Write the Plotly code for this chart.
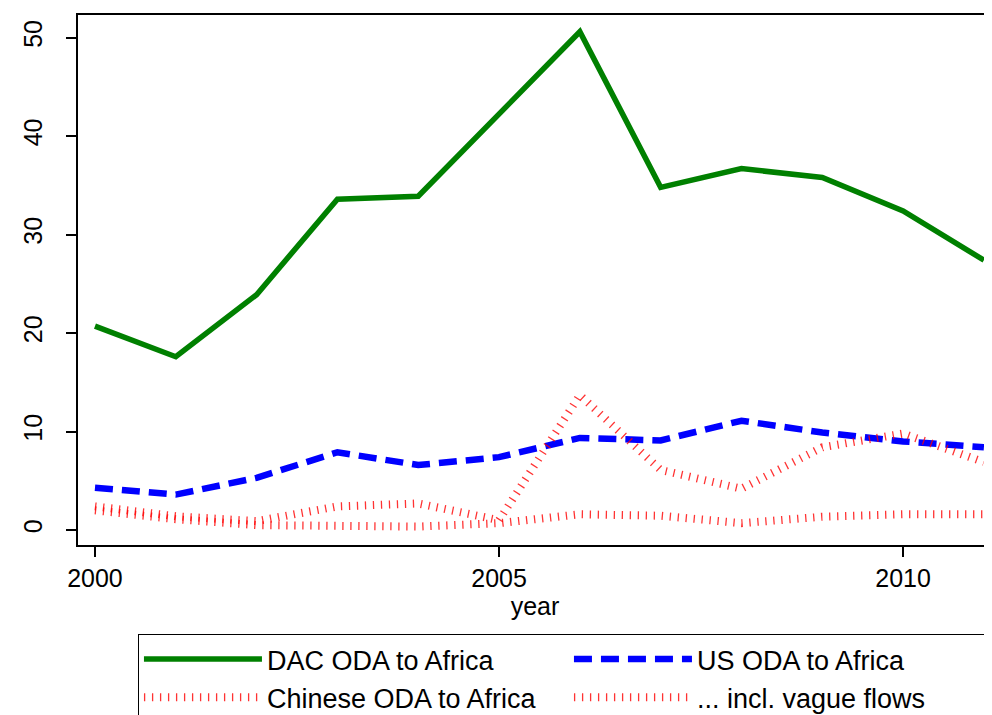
import plotly.graph_objects as go

years = list(range(2000, 2012))
dac_oda = [20.7, 17.6, 23.9, 33.6, 33.9, 42.2, 50.6, 34.8, 36.7, 35.8, 32.4, 27.4]
us_oda = [4.3, 3.6, 5.3, 7.9, 6.6, 7.4, 9.35, 9.1, 11.1, 9.9, 9.0, 8.4]
chinese_oda = [2.0, 1.1, 0.5, 0.4, 0.35, 0.7, 1.6, 1.45, 0.7, 1.35, 1.6, 1.6]
chinese_vague = [2.4, 1.4, 0.9, 2.4, 2.7, 1.0, 13.7, 6.1, 4.2, 8.4, 9.8, 6.9]

series_names = ["DAC ODA to Africa", "US ODA to Africa", "Chinese ODA to Africa", "... incl. vague flows"]
x_ticks = [2000, 2005, 2010]
y_ticks = [0, 10, 20, 30, 40, 50]

FONT = "Liberation Sans, Arial, sans-serif"

fig = go.Figure()
fig.add_trace(go.Scatter(x=years, y=dac_oda, mode="lines", name=series_names[0],
                         line=dict(color="#008000", width=5.5)))
fig.add_trace(go.Scatter(x=years, y=us_oda, mode="lines", name=series_names[1],
                         line=dict(color="#0000ff", width=6.5, dash="18px,9px")))
fig.add_trace(go.Scatter(x=years, y=chinese_oda, mode="lines", name=series_names[2],
                         line=dict(color="rgba(255,0,0,0.8)", width=8, dash="1.3px,6.7px")))
fig.add_trace(go.Scatter(x=years, y=chinese_vague, mode="lines", name=series_names[3],
                         line=dict(color="rgba(255,0,0,0.8)", width=8, dash="1.3px,6.7px")))

# page body has an 8px margin, so the figure is sized to end at the window edge
fig.update_layout(
    width=984, height=707,
    margin=dict(l=70, r=0, t=7, b=170, autoexpand=False),
    paper_bgcolor="white", plot_bgcolor="white",
    font=dict(family=FONT, size=25, color="black"),
    showlegend=True,
    legend=dict(
        orientation="h",
        x=0.0656, y=-0.168, xanchor="left", yanchor="top",
        entrywidth=297, entrywidthmode="pixels",
        itemwidth=118,
        font=dict(family=FONT, size=27, color="black"),
        bordercolor="black", borderwidth=1,
        bgcolor="white",
        traceorder="normal",
    ),
)
fig.update_xaxes(
    range=[1999.79, 2011.1],
    tickvals=x_ticks, ticktext=[str(v) for v in x_ticks],
    ticks="outside", ticklen=10, tickwidth=1.5, tickcolor="black",
    showline=True, linecolor="black", linewidth=2, mirror=True,
    showgrid=False, zeroline=False,
    tickfont=dict(size=25),
    title=dict(text="year", font=dict(size=25), standoff=4),
)
fig.update_yaxes(
    range=[-1.52, 52.3],
    tickvals=y_ticks, ticktext=[str(v) for v in y_ticks],
    ticks="outside", ticklen=10, tickwidth=1.5, tickcolor="black",
    showline=True, linecolor="black", linewidth=2,
    showgrid=False, zeroline=False,
    tickangle=-90,
    ticklabelstandoff=14,
    tickfont=dict(size=25),
)

fig.write_html("out.html")
